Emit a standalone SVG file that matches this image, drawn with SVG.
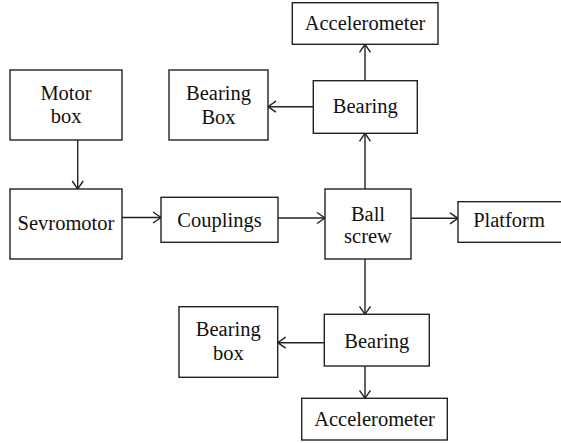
<svg xmlns="http://www.w3.org/2000/svg" width="561" height="443" viewBox="0 0 561 443">
<style>
rect{fill:#fff;stroke:#222;stroke-width:1.4}
text{font-family:"Liberation Serif","Times New Roman",serif;font-size:20.5px;fill:#111;text-anchor:middle}
.c{fill:none;stroke:#222;stroke-width:1.4}
</style>
<defs>
<marker id="a" markerUnits="userSpaceOnUse" markerWidth="14" markerHeight="14" refX="10" refY="7" orient="auto">
<path d="M2,1.5 L10,7 L2,12.5" fill="none" stroke="#222" stroke-width="1.4"/>
</marker>
</defs>
<g id="connectors">
<line class="c" x1="77.7" y1="140" x2="77.7" y2="189" marker-end="url(#a)"/>
<line class="c" x1="122" y1="217.5" x2="161" y2="217.5" marker-end="url(#a)"/>
<line class="c" x1="278" y1="218" x2="325" y2="218" marker-end="url(#a)"/>
<line class="c" x1="411" y1="218.3" x2="458" y2="218.3" marker-end="url(#a)"/>
<line class="c" x1="365" y1="189" x2="365" y2="133.3" marker-end="url(#a)"/>
<line class="c" x1="365" y1="80.7" x2="365" y2="44.3" marker-end="url(#a)"/>
<line class="c" x1="313.3" y1="106.7" x2="268" y2="106.7" marker-end="url(#a)"/>
<line class="c" x1="365" y1="259" x2="365" y2="314.3" marker-end="url(#a)"/>
<line class="c" x1="324.3" y1="342.7" x2="277.7" y2="342.7" marker-end="url(#a)"/>
<line class="c" x1="365" y1="366" x2="365" y2="398.3" marker-end="url(#a)"/>
</g>
<g id="motorbox"><rect x="10" y="70" width="112" height="70"/><text x="66" y="99.5">Motor</text><text x="66" y="122.7">box</text></g>
<g id="sevromotor"><rect x="10" y="189" width="112" height="70"/><text x="66" y="229.5">Sevromotor</text></g>
<g id="couplings"><rect x="161" y="197.3" width="117" height="45"/><text x="219.5" y="226.8">Couplings</text></g>
<g id="ballscrew"><rect x="325" y="189" width="86" height="70"/><text x="368" y="220.7">Ball</text><text x="368" y="243.3">screw</text></g>
<g id="platform"><rect x="458" y="201.7" width="105" height="40.6"/><text x="509" y="226.7">Platform</text></g>
<g id="bearingtop"><rect x="313.3" y="80.7" width="104" height="52.6"/><text x="365.3" y="113">Bearing</text></g>
<g id="acceltop"><rect x="292.3" y="2.7" width="145.7" height="41.6"/><text x="365" y="30">Accelerometer</text></g>
<g id="bearingboxtop"><rect x="169" y="70" width="99" height="70"/><text x="218.5" y="100">Bearing</text><text x="218.5" y="124">Box</text></g>
<g id="bearingbottom"><rect x="324.3" y="314.3" width="105" height="51.7"/><text x="376.8" y="348">Bearing</text></g>
<g id="bearingboxbottom"><rect x="179" y="306.7" width="98.7" height="70.6"/><text x="228.3" y="336">Bearing</text><text x="228.3" y="360">box</text></g>
<g id="accelbottom"><rect x="301.7" y="398.3" width="145.6" height="41.7"/><text x="374.5" y="425.5">Accelerometer</text></g>
</svg>
